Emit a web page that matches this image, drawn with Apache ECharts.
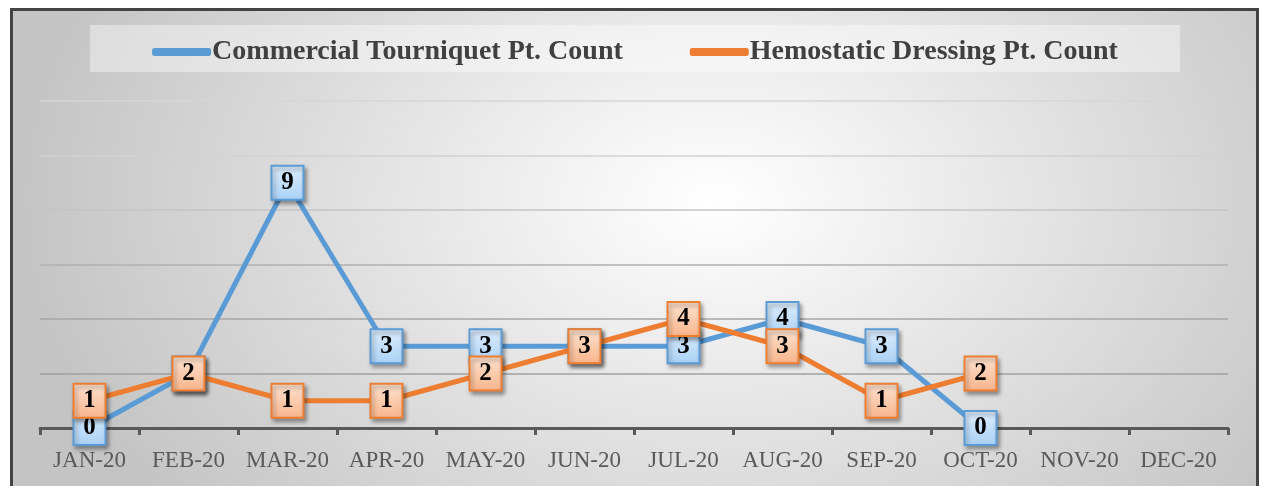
<!DOCTYPE html>
<html>
<head>
<meta charset="utf-8">
<script src="https://cdn.jsdelivr.net/npm/echarts@6/dist/echarts.min.js"></script>
<style>
  html, body { margin: 0; padding: 0; background: #fff; overflow: hidden; }
  #frame {
    position: absolute; left: 10px; top: 8px; width: 1249px; height: 500px;
    box-sizing: border-box; border: 3px solid #444;
    background: radial-gradient(ellipse 700px 480px at 700px 190px, #ffffff 0%, #c4c4c4 100%);
  }
  #main { position: absolute; left: 0; top: 0; width: 1270px; height: 486px; }
</style>
</head>
<body>
<div id="frame"></div>
<div id="main"></div>
<script>
// months on the x axis
var months = ['JAN-20', 'FEB-20', 'MAR-20', 'APR-20', 'MAY-20', 'JUN-20',
              'JUL-20', 'AUG-20', 'SEP-20', 'OCT-20', 'NOV-20', 'DEC-20'];
var tourniquet = [0, 2, 9, 3, 3, 3, 3, 4, 3, 0, null, null];
var dressing = [1, 2, 1, 1, 2, 3, 4, 3, 1, 2, null, null];
var seriesNames = ['Commercial Tourniquet Pt. Count', 'Hemostatic Dressing Pt. Count'];

var blue = '#5b9bd5';
var orange = '#ed7d31';
var serif = '"Liberation Serif", "DejaVu Serif", serif';

function boxFill(top, bottom) {
  return new echarts.graphic.LinearGradient(0, 0, 0, 1, [
    { offset: 0, color: top },
    { offset: 1, color: bottom }
  ]);
}

function lineSeries(name, data, line, top, bottom, z) {
  return {
    name: name,
    type: 'line',
    data: data,
    z: z,
    symbol: 'rect',
    symbolSize: [32, 34],
    showAllSymbol: true,
    lineStyle: { color: line, width: 5 },
    itemStyle: {
      color: boxFill(top, bottom),
      borderColor: line,
      borderWidth: 2,
      shadowColor: 'rgba(0,0,0,0.35)',
      shadowBlur: 4,
      shadowOffsetX: 2,
      shadowOffsetY: 3
    },
    label: {
      show: true,
      position: 'inside',
      color: '#000',
      fontFamily: serif,
      fontWeight: 'bold',
      fontSize: 25
    },
    emphasis: { disabled: true },
    animation: false
  };
}

var chart = echarts.init(document.getElementById('main'));

chart.setOption({
  backgroundColor: 'transparent',
  animation: false,
  graphic: [{
    type: 'rect',
    z: -10,
    silent: true,
    shape: { x: 90, y: 25, width: 1090, height: 47 },
    style: { fill: 'rgba(255,255,255,0.4)' }
  }],
  legend: {
    top: 33,
    left: 'center',
    itemGap: 67,
    itemWidth: 57,
    itemHeight: 6,
    icon: 'roundRect',
    textStyle: {
      color: '#404040',
      fontFamily: serif,
      fontWeight: 'bold',
      fontSize: 28,
      padding: [0, 0, 0, -3]
    },
    data: [
      { name: seriesNames[0], itemStyle: { color: blue } },
      { name: seriesNames[1], itemStyle: { color: orange } }
    ]
  },
  grid: { left: 40, right: 42, top: 101, bottom: 58 },
  xAxis: {
    type: 'category',
    data: months,
    boundaryGap: true,
    axisLine: { lineStyle: { color: '#595959', width: 3 } },
    axisTick: { show: true, interval: 0, length: 7, lineStyle: { color: '#595959', width: 3 } },
    axisLabel: { interval: 0, color: '#595959', fontFamily: serif, fontSize: 23, margin: 21 },
    splitLine: { show: false }
  },
  yAxis: {
    type: 'value',
    min: 0,
    max: 12,
    interval: 2,
    axisLine: { show: false },
    axisTick: { show: false },
    axisLabel: { show: false },
    splitLine: {
      lineStyle: {
        color: ['#999', '#a0a0a0', '#a6a6a6', '#b0b0b0', '#c4c4c4', '#d2d2d2', '#d6d6d6'],
        width: 1.5
      }
    }
  },
  series: [
    lineSeries(seriesNames[0], tourniquet, blue, '#deedfc', '#a9d1f6', 2),
    lineSeries(seriesNames[1], dressing, orange, '#fde3d1', '#f8b48a', 3)
  ]
});
</script>
</body>
</html>
